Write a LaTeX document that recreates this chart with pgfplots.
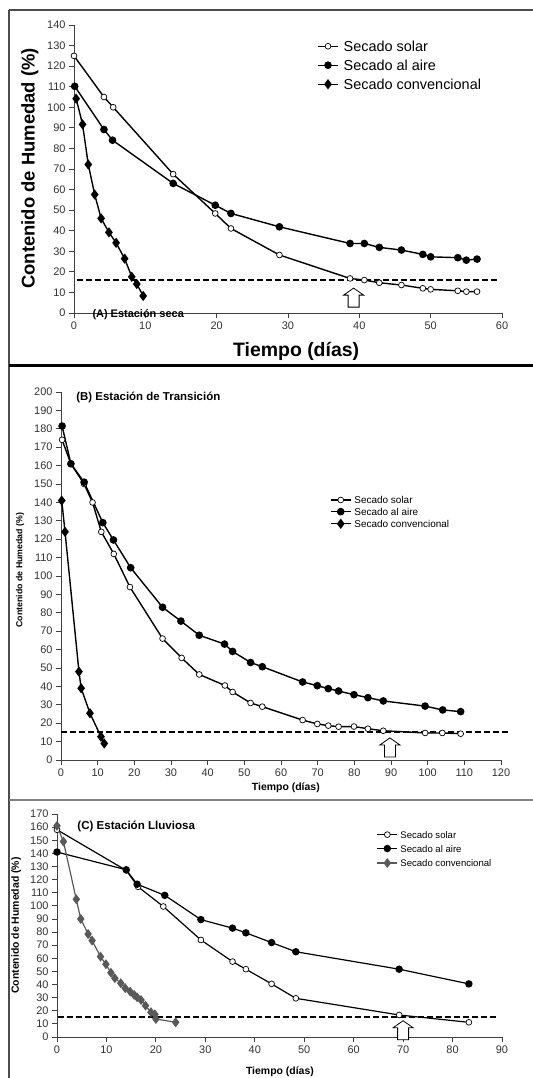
\documentclass[border=0pt]{standalone}
\usepackage{fontspec}
\setmainfont{Liberation Sans}
\usepackage{pgfplots}
\pgfplotsset{compat=1.18}

\pgfplotsset{
  panel/.style={
    scale only axis, axis lines=left,
    axis line style={-, line width=1bp, black!75},
    tick align=outside, major tick length=5bp,
    tick style={line width=0.8bp, black!75},
    /pgf/number format/assume math mode=true,
    ticklabel style={black!80},
    clip=false,
    legend cell align=left,
    legend style={draw=none, fill=none, inner sep=0pt, anchor=north west,
      nodes={inner sep=0pt, text depth=0pt}},
    legend image code/.code={\draw[mark repeat=2,mark phase=2]
      plot coordinates {(0bp,0bp) (10bp,0bp) (20bp,0bp)};},
  },
  solar/.style={black, line width=1.4bp, mark=*, mark size=2.9bp,
    mark options={fill=white, line width=0.7bp}},
  aire/.style={black, line width=1.4bp, mark=*, mark size=3.1bp},
  conv/.style={black, line width=1.4bp, mark=diamond*, mark size=4bp},
  umbral/.style={black, line width=1.8bp, dash pattern=on 6bp off 3bp, forget plot},
}

% flecha hueca que apunta hacia arriba, punta en (x,y)
\newcommand{\flecha}[2]{%
  \draw[fill=white, line width=0.8bp] (axis cs:#1,#2) -- ++(10bp,-7bp) -- ++(-4.5bp,0)
    -- ++(0,-12bp) -- ++(-11bp,0) -- ++(0,12bp) -- ++(-4.5bp,0) -- cycle;}

\begin{document}
\begin{tikzpicture}
\path[use as bounding box] (0,0) rectangle (533bp,-1078bp);

% marcos de los paneles
\draw[line width=1.2bp, black!70] (9bp,-10bp) -- (533bp,-10bp);
\draw[line width=1.2bp, black!70] (9bp,-10bp) -- (9bp,-1078bp);
\draw[line width=3bp, black] (9bp,-365bp) -- (533bp,-365bp);
\draw[line width=2bp, black!50] (9bp,-800bp) -- (533bp,-800bp);

% ---------------- (A) Estación seca ----------------
\begin{axis}[panel,
  at={(74bp,-313bp)}, anchor=south west,
  width=428bp, height=288bp,
  xmin=0, xmax=60, ymin=0, ymax=140,
  xtick={0,10,...,60}, ytick={0,10,...,140},
  ticklabel style={font=\fontsize{11}{13}\selectfont},
  xlabel={Tiempo (días)},
  xlabel style={at={(axis description cs:0.519,-0.132)}, anchor=center,
    font=\fontsize{19.5}{22}\selectfont\bfseries},
  ylabel={Contenido de Humedad (\%)},
  ylabel style={at={(axis description cs:-0.103,0.502)}, anchor=center,
    font=\fontsize{18.5}{22}\selectfont\bfseries},
  legend style={at={(axis description cs:0.568,0.945)}, row sep=8.5bp, column sep=5bp,
    font=\fontsize{14.5}{17}\selectfont},
]
\addplot[solar] coordinates {(0,125) (4.2,105) (5.5,100) (13.9,67.5) (19.8,48.4) (22,41.1)
  (28.8,28.2) (38.7,16.8) (40.7,16) (42.8,14.7) (45.9,13.6) (48.9,12) (50,11.5)
  (53.8,10.8) (55,10.4) (56.5,10.4)};
\addplot[aire] coordinates {(0.1,110.2) (4.2,89.2) (5.4,84) (13.9,63) (19.8,52.4) (22,48.4)
  (28.8,41.9) (38.7,33.8) (40.7,33.8) (42.8,31.9) (45.9,30.6) (48.9,28.5) (50,27.3)
  (53.8,26.9) (55,25.7) (56.5,26.2)};
\addplot[conv] coordinates {(0.3,104.2) (1.2,91.7) (2.0,72.2) (2.9,57.6) (3.8,46) (4.9,39.2)
  (5.9,34.1) (7.1,26.4) (8.1,17.6) (8.8,14.1) (9.7,8.3)};
\addplot[umbral] coordinates {(0.4,16) (59.3,16)};
\legend{Secado solar, Secado al aire, Secado convencional}
\flecha{39.2}{12.1}
\node[anchor=west, font=\fontsize{11}{13}\selectfont\bfseries]
  at (axis description cs:0.035,-0.006) {(A) Estación seca};
\end{axis}

% ---------------- (B) Estación de Transición ----------------
\begin{axis}[panel,
  at={(61bp,-760bp)}, anchor=south west,
  width=440bp, height=368bp,
  xmin=0, xmax=120, ymin=0, ymax=200,
  xtick={0,10,...,120}, ytick={0,10,...,200},
  ticklabel style={font=\fontsize{11}{13}\selectfont},
  xlabel={Tiempo (días)},
  xlabel style={at={(axis description cs:0.511,-0.076)}, anchor=center,
    font=\fontsize{10.5}{12}\selectfont\bfseries},
  ylabel={Contenido de Humedad (\%)},
  ylabel style={at={(axis description cs:-0.093,0.516)}, anchor=center,
    font=\fontsize{8.8}{10}\selectfont\bfseries},
  legend style={at={(axis description cs:0.611,0.717)}, row sep=4.5bp, column sep=3bp,
    font=\fontsize{10}{12}\selectfont},
]
\addplot[solar] coordinates {(0.3,174) (2.7,161) (6.3,150) (8.6,140) (11,124) (14.4,112)
  (18.8,94) (27.7,66) (32.9,55.5) (37.7,46.5) (44.7,40.5) (46.8,37) (51.7,31) (54.9,29)
  (65.9,21.7) (69.9,19.6) (72.9,18.7) (75.7,18.1) (79.9,18.2) (83.7,17) (87.9,15.9)
  (99.3,14.7) (104,14.7) (109,14.3)};
\addplot[aire] coordinates {(0.3,181.5) (2.7,161) (6.3,151) (11.4,129) (14.3,119.6) (19,104.5)
  (27.7,83) (32.7,75.5) (37.7,67.8) (44.6,63) (46.8,59) (51.7,53) (54.9,50.7) (65.9,42.4)
  (69.9,40.4) (72.9,38.8) (75.7,37.5) (79.9,35.5) (83.7,33.9) (87.9,32.1) (99.3,29.3)
  (104.1,27.2) (109,26.3)};
\addplot[conv] coordinates {(0.2,141) (1.1,124) (4.9,48) (5.5,39) (7.9,25.4) (10.9,12.7) (11.8,9)};
\addplot[umbral] coordinates {(0,15.4) (122,15.4)};
\legend{Secado solar, Secado al aire, Secado convencional}
\flecha{89.7}{12}
\node[anchor=west, font=\fontsize{11.5}{13}\selectfont\bfseries]
  at (axis description cs:0.027,0.984) {(B) Estación de Transición};
\end{axis}

% ---------------- (C) Estación Lluviosa ----------------
\begin{axis}[panel,
  at={(57bp,-1037bp)}, anchor=south west,
  width=445bp, height=223bp,
  xmin=0, xmax=90, ymin=0, ymax=170,
  xtick={0,10,...,90}, ytick={0,10,...,170},
  ticklabel style={font=\fontsize{11}{13}\selectfont},
  xlabel={Tiempo (días)},
  xlabel style={at={(axis description cs:0.501,-0.157)}, anchor=center,
    font=\fontsize{10.5}{12}\selectfont\bfseries},
  ylabel={Contenido de Humedad (\%)},
  ylabel style={at={(axis description cs:-0.092,0.5)}, anchor=center,
    font=\fontsize{10.5}{12}\selectfont\bfseries},
  legend style={at={(axis description cs:0.718,0.924)}, row sep=7bp, column sep=2.5bp,
    font=\fontsize{9.6}{12}\selectfont},
]
\addplot[solar, line width=1.2bp] coordinates {(0,158) (14,127) (16.4,114.5) (21.5,99.5) (29.1,74)
  (35.5,57.5) (38.2,51.7) (43.4,40.5) (48.3,29.5) (69.2,16.8) (83.3,11.2)};
\addplot[aire, line width=1.2bp] coordinates {(0,141) (14,127.5) (16.2,116.5) (21.8,108) (29.1,89.5)
  (35.5,83) (38.2,79.4) (43.4,72) (48.3,65) (69.2,51.7) (83.3,40.5)};
\addplot[conv, black!65, line width=1.2bp] coordinates {(0,161) (1.3,149) (3.9,105) (4.8,90) (6.3,78.5)
  (7.1,73.5) (8.8,61.3) (9.9,55.5) (10.9,49) (11.7,44.8) (12.9,41) (13.8,37.2)
  (14.8,34.6) (15.6,32.1) (16.2,30.3) (17,28.2) (17.9,23.9) (19,18.9) (19.8,17.3)
  (20,13.7) (24,11.2)};
\addplot[umbral] coordinates {(0.2,15.5) (89,15.5)};
\legend{Secado solar, Secado al aire, Secado convencional}
\flecha{70}{12.4}
\node[anchor=west, font=\fontsize{11.6}{13}\selectfont\bfseries]
  at (axis description cs:0.038,0.942) {(C) Estación Lluviosa};
\end{axis}
\end{tikzpicture}
\end{document}
